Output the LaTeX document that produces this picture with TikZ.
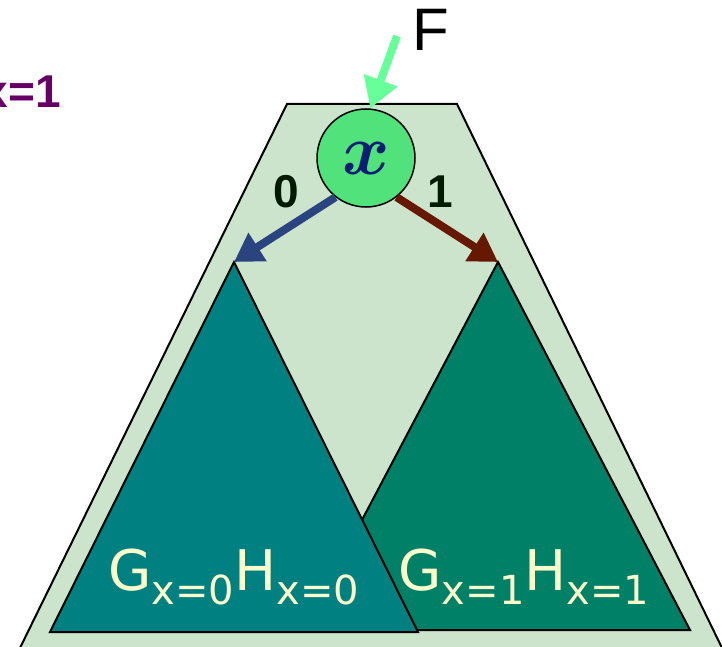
\documentclass[tikz,border=0pt]{standalone}
\usepackage{bm}
\usepackage{fontspec}
\setmainfont{Liberation Sans}
\newfontfamily\dejavu{DejaVu Sans}
\usepackage{tikz}
\usetikzlibrary{arrows.meta, positioning, calc}

\definecolor{trapgreen}{RGB}{204,228,204}
\definecolor{leftteal}{RGB}{0,128,128}
\definecolor{rightteal}{RGB}{0,128,102}
\definecolor{nodegreen}{RGB}{82,226,123}
\definecolor{varblue}{RGB}{10,31,115}
\definecolor{fgreen}{RGB}{102,255,153}
\definecolor{zeroblue}{RGB}{42,68,128}
\definecolor{onebrown}{RGB}{102,25,0}
\definecolor{edgedark}{RGB}{0,26,0}
\definecolor{condpurple}{RGB}{102,0,102}
\definecolor{labelyellow}{RGB}{255,255,204}

\newcommand{\subtxt}[1]{\raisebox{-7pt}{\fontsize{20}{20}\selectfont #1}}

\begin{document}
\begin{tikzpicture}[x=0.5pt, y=-0.5pt,
  edgearrow/.style={line width=4pt, -{Triangle[width=16pt,length=14pt]}},
  subtree/.style={draw=black, line width=1pt},
  edgelabel/.style={text=edgedark, font=\bfseries\fontsize{23}{23}\selectfont},
  sublabel/.style={text=labelyellow, anchor=base west, inner sep=0pt, font=\dejavu\fontsize{28}{30}\selectfont}]
\useasboundingbox (0,0) rectangle (722,647);
\begin{scope}
\clip (0,0) rectangle (722,647);

% outer cofactor region
\draw[fill=trapgreen, line width=1pt] (287,104) -- (457,104) -- (724,652) -- (18,652) -- cycle;

% sub-diagrams for x=1 and x=0
\coordinate (rapex) at (498,262);
\coordinate (lapex) at (234,262);
\draw[subtree, fill=rightteal] (rapex) -- (690,630) -- (304,630) -- cycle;
\draw[subtree, fill=leftteal] (lapex) -- (418,632) -- (50,632) -- cycle;
\node[sublabel] (gh0) at (108,590) {G\subtxt{x=0}H\subtxt{x=0}};
\node[sublabel] (gh1) at (398,590) {G\subtxt{x=1}H\subtxt{x=1}};

% decision node
\node[circle, draw=black, line width=0.75pt, fill=nodegreen, minimum size=49pt, inner sep=0pt, text=varblue] (xnode) at (366,158) {\raisebox{-2.5pt}{\scalebox{3.6}{$\bm{x}$}}};

% incoming function
\node[font=\fontsize{30}{30}\selectfont] (flabel) at (431,30) {F};
\coordinate (fstart) at (397,36);
\draw[fgreen, line width=4pt, -{Triangle[width=17pt,length=15pt]}] (fstart) -- (xnode.85);

% branches
\draw[edgearrow, draw=zeroblue] (xnode.232) -- (lapex);
\draw[edgearrow, draw=onebrown] (xnode.308) -- (rapex);
\node[edgelabel] (lbl0) at (286,192) {0};
\node[edgelabel] (lbl1) at (440,192) {1};

% condition
\node[text=condpurple, anchor=base east, inner sep=0pt, font=\bfseries\fontsize{23}{23}\selectfont] (cond) at (61,107) {x=1};
\end{scope}
\end{tikzpicture}
\end{document}
